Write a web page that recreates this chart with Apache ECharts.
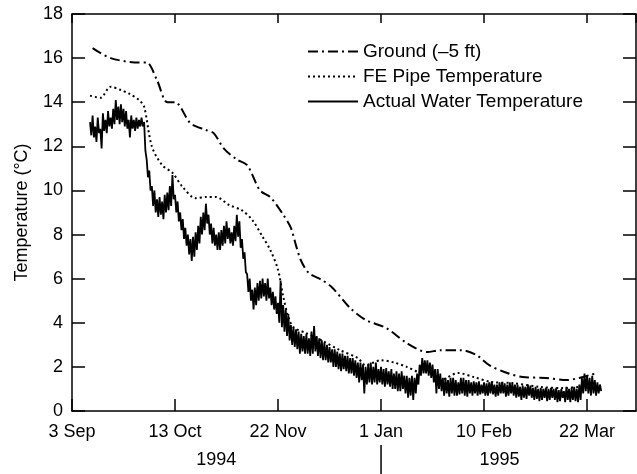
<!DOCTYPE html>
<html>
<head>
<meta charset="utf-8">
<script src="https://cdn.jsdelivr.net/npm/echarts@6/dist/echarts.min.js"></script>
<style>
  html, body { margin: 0; padding: 0; background: #fff; }
  #chart { width: 637px; height: 474px; }
</style>
</head>
<body>
<div id="chart"></div>
<script>
const FONT = 'Liberation Sans, Arial, Helvetica, sans-serif';

// x is days since 3 Sep 1994
const dayTicks = [0, 40, 80, 120, 160, 200];
const dayLabels = ['3 Sep', '13 Oct', '22 Nov', '1 Jan', '10 Feb', '22 Mar'];
const yearLabels = ['1994', '1995'];
const yearCenters = [56, 166];   // days, where the year text sits
const yearSplit = 120;           // 1 Jan 1995

const seriesNames = ['Ground (\u20135 ft)', 'FE Pipe Temperature', 'Actual Water Temperature'];

const groundDays = [8, 15, 26, 29, 33, 37, 40, 46, 52, 55, 59, 64, 68, 73, 77, 82, 85, 87, 89, 92, 97, 101, 108, 114, 122, 130, 138, 143, 151, 157, 162, 169, 175, 184, 192, 197, 201, 204];
const groundTemps = [16.45, 16.0, 15.8, 15.8, 15.0, 14.0, 14.0, 13.05, 12.74, 12.6, 11.9, 11.4, 11.15, 10.0, 9.7, 8.9, 8.3, 7.5, 6.8, 6.25, 5.94, 5.6, 4.67, 4.13, 3.76, 3.08, 2.67, 2.76, 2.76, 2.54, 2.08, 1.72, 1.54, 1.5, 1.4, 1.5, 1.63, 1.72];

const pipeDays = [7, 11, 15, 19, 22, 26, 28, 31, 35, 39, 43, 48, 52, 56, 61, 66, 70, 74, 77, 80, 82, 84, 86, 91, 97, 104, 111, 114, 120, 125, 130, 135, 140, 143, 150, 156, 163, 171, 182, 191, 197, 203];
const pipeTemps = [14.3, 14.2, 14.7, 14.55, 14.4, 14.1, 13.8, 12.0, 11.15, 10.8, 10.15, 9.65, 9.7, 9.7, 9.34, 9.1, 8.66, 7.9, 7.3, 6.4, 5.2, 4.26, 3.8, 3.53, 3.2, 2.76, 2.4, 2.08, 2.3, 2.2, 2.0, 1.77, 1.86, 1.4, 1.72, 1.54, 1.31, 1.27, 1.09, 1.04, 1.09, 1.1];

// readings every half day, first one on day 7 (one row = 10 days)
const waterStartDay = 7;
const waterStep = 0.5;
const waterTemps = [
  13.1, 12.5, 13.4, 12.4, 12.9, 12.2, 13.3, 12.6, 12.8, 11.9, 13.5, 12.7, 13.2, 12.6, 13.6, 12.9, 13.3, 12.8, 13.7, 13.0,
  14.1, 13.2, 13.8, 13.0, 13.9, 13.1, 13.7, 12.9, 13.6, 12.8, 13.2, 12.4, 13.4, 12.8, 13.2, 12.7, 13.3, 12.8, 13.2, 12.9,
  13.3, 12.9, 13.1, 11.8, 11.4, 10.6, 10.9, 10.0, 10.2, 9.3, 10.0, 9.0, 9.6, 8.8, 9.7, 8.9, 9.5, 8.7, 9.8, 9.0,
  9.9, 9.1, 10.2, 9.3, 10.7, 9.6, 9.8, 9.0, 9.5, 8.6, 9.0, 8.2, 8.7, 7.8, 8.3, 7.5, 8.0, 7.1, 7.8, 6.8,
  7.9, 7.0, 8.1, 7.3, 8.4, 7.6, 8.8, 8.0, 9.0, 8.2, 9.4, 8.5, 8.9, 8.0, 8.5, 7.6, 8.3, 7.5, 8.0, 7.3,
  8.1, 7.3, 8.2, 7.5, 8.4, 7.6, 8.6, 7.8, 8.3, 7.6, 8.1, 7.5, 8.4, 7.7, 8.9, 7.9, 8.6, 7.4, 7.8, 6.9,
  7.2, 6.3, 6.2, 5.4, 6.0, 5.0, 5.5, 4.6, 5.6, 4.8, 5.8, 5.0, 5.9, 5.1, 6.0, 5.2, 5.8, 5.0, 6.0, 5.1,
  5.6, 4.8, 5.4, 4.6, 5.2, 4.4, 4.9, 4.0, 5.9, 3.8, 4.8, 3.6, 4.6, 3.4, 4.4, 3.2, 3.9, 3.0, 3.8, 2.9,
  3.7, 2.8, 3.6, 2.6, 3.5, 2.7, 3.4, 2.6, 3.5, 2.6, 3.3, 2.5, 3.6, 2.6, 3.85, 2.7, 3.4, 2.5, 3.3, 2.4,
  3.2, 2.3, 3.1, 2.3, 3.0, 2.2, 2.9, 2.2, 2.8, 2.0, 2.8, 2.0, 2.7, 1.9, 2.6, 1.8, 2.6, 1.9, 2.5, 1.8,
  2.5, 1.7, 2.4, 1.7, 2.4, 1.6, 2.3, 1.5, 2.2, 1.3, 2.2, 1.4, 2.1, 0.8, 2.0, 1.2, 2.1, 1.3, 2.2, 1.2,
  2.0, 1.3, 2.2, 1.2, 1.9, 1.3, 2.0, 1.2, 1.9, 1.1, 1.95, 1.2, 1.8, 1.1, 1.9, 1.0, 1.7, 1.0, 1.8, 0.9,
  1.7, 0.9, 1.8, 1.0, 1.6, 0.8, 1.6, 0.6, 1.5, 0.7, 1.6, 0.5, 1.5, 0.8, 1.7, 1.2, 2.1, 1.6, 2.4, 1.7,
  2.3, 1.7, 2.3, 1.6, 2.2, 1.5, 2.1, 1.3, 1.9, 0.8, 1.9, 1.0, 1.7, 0.9, 1.5, 0.7, 1.5, 0.8, 1.4, 0.65,
  1.5, 0.8, 1.5, 0.7, 1.4, 0.7, 1.3, 0.75, 1.5, 0.8, 1.5, 0.7, 1.4, 0.65, 1.4, 0.8, 1.3, 0.7, 1.35, 0.8,
  1.3, 0.7, 1.35, 0.75, 1.2, 0.8, 1.3, 0.7, 1.25, 0.7, 1.3, 0.8, 1.35, 0.75, 1.2, 0.65, 1.2, 0.7, 1.3, 0.8,
  1.3, 0.8, 1.25, 0.65, 1.2, 0.7, 1.3, 0.8, 1.25, 0.7, 1.2, 0.6, 1.2, 0.65, 1.1, 0.5, 1.15, 0.6, 1.1, 0.55,
  1.2, 0.7, 1.15, 0.6, 1.05, 0.5, 1.1, 0.55, 1.0, 0.45, 1.05, 0.5, 1.0, 0.6, 1.05, 0.45, 1.0, 0.5, 1.05, 0.6,
  1.0, 0.5, 1.05, 0.4, 0.95, 0.45, 1.0, 0.6, 0.9, 0.4, 1.1, 0.5, 1.0, 0.4, 1.05, 0.5, 1.1, 0.45, 1.0, 0.4,
  1.2, 0.5, 1.5, 0.8, 1.7, 0.9, 1.6, 0.8, 1.5, 0.7, 1.6, 0.8, 1.4, 0.7, 1.3, 0.8, 1.2, 0.9
];

function pairs(xs, ys) {
  return ys.map(function (v, i) { return [xs[i], v]; });
}

var chartDom = document.getElementById('chart');
var myChart = echarts.init(chartDom);

var axisLineStyle = { color: '#000', width: 1.5 };
var xLabel = function (v) {
  var i = dayTicks.indexOf(v);
  return i >= 0 ? dayLabels[i] : '';
};

var option = {
  animation: false,
  backgroundColor: '#fff',
  textStyle: { fontFamily: FONT, color: '#000' },
  grid: { left: 72, right: 1, top: 14, bottom: 63 },
  legend: {
    orient: 'vertical',
    left: 302,
    top: 37,
    itemWidth: 50,
    itemHeight: 14,
    itemGap: 6,
    itemStyle: { color: 'rgba(0,0,0,0)', borderColor: 'rgba(0,0,0,0)', borderWidth: 0 },
    textStyle: { fontFamily: FONT, fontSize: 19, color: '#000' },
    data: seriesNames
  },
  xAxis: [
    {
      type: 'value', min: 0, max: 219, interval: 40,
      axisLine: { onZero: false, lineStyle: axisLineStyle },
      axisTick: { inside: true, length: 12, lineStyle: axisLineStyle },
      axisLabel: { formatter: xLabel, fontSize: 18, color: '#000', margin: 12, fontFamily: FONT, showMaxLabel: false },
      splitLine: { show: false }
    },
    {
      type: 'value', position: 'top', min: 0, max: 219, interval: 40,
      axisLine: { onZero: false, lineStyle: axisLineStyle },
      axisTick: { inside: true, length: 9, lineStyle: axisLineStyle },
      axisLabel: { show: false },
      splitLine: { show: false }
    }
  ],
  yAxis: [
    {
      type: 'value', min: 0, max: 18, interval: 2,
      name: 'Temperature (\u00b0C)', nameLocation: 'middle', nameGap: 41,
      nameTextStyle: { fontSize: 18, color: '#000', fontFamily: FONT },
      axisLine: { show: true, onZero: false, lineStyle: axisLineStyle },
      axisTick: { show: true, inside: true, length: 13, lineStyle: axisLineStyle },
      axisLabel: { fontSize: 18, color: '#000', margin: 9, fontFamily: FONT },
      splitLine: { show: false }
    },
    {
      type: 'value', position: 'right', min: 0, max: 18, interval: 2,
      axisLine: { show: true, onZero: false, lineStyle: axisLineStyle },
      axisTick: { show: true, inside: true, length: 13, lineStyle: axisLineStyle },
      axisLabel: { show: false },
      splitLine: { show: false }
    }
  ],
  series: [
    {
      name: seriesNames[0], type: 'line', symbol: 'none', smooth: 0.3,
      lineStyle: { color: '#000', width: 2, type: [10, 4, 2, 4] },
      itemStyle: { color: '#000' },
      data: pairs(groundDays, groundTemps)
    },
    {
      name: seriesNames[1], type: 'line', symbol: 'none', smooth: 0.3,
      lineStyle: { color: '#000', width: 2, type: [2, 3] },
      itemStyle: { color: '#000' },
      data: pairs(pipeDays, pipeTemps)
    },
    {
      name: seriesNames[2], type: 'line', symbol: 'none',
      lineStyle: { color: '#000', width: 1.8 },
      itemStyle: { color: '#000' },
      data: waterTemps.map(function (v, i) { return [waterStartDay + i * waterStep, v]; })
    }
  ]
};
myChart.setOption(option);

// year captions under the date labels, split at 1 Jan
var splitX = myChart.convertToPixel({ xAxisIndex: 0 }, yearSplit);
myChart.setOption({
  graphic: [
    {
      type: 'line', silent: true,
      shape: { x1: splitX, y1: 445, x2: splitX, y2: 474 },
      style: { stroke: '#000', lineWidth: 1.5 }
    }
  ].concat(yearLabels.map(function (t, i) {
    return {
      type: 'text', silent: true,
      x: myChart.convertToPixel({ xAxisIndex: 0 }, yearCenters[i]), y: 460,
      style: { text: t, fontSize: 18, fontFamily: FONT, fill: '#000', align: 'center', verticalAlign: 'middle' }
    };
  }))
});
</script>
</body>
</html>
